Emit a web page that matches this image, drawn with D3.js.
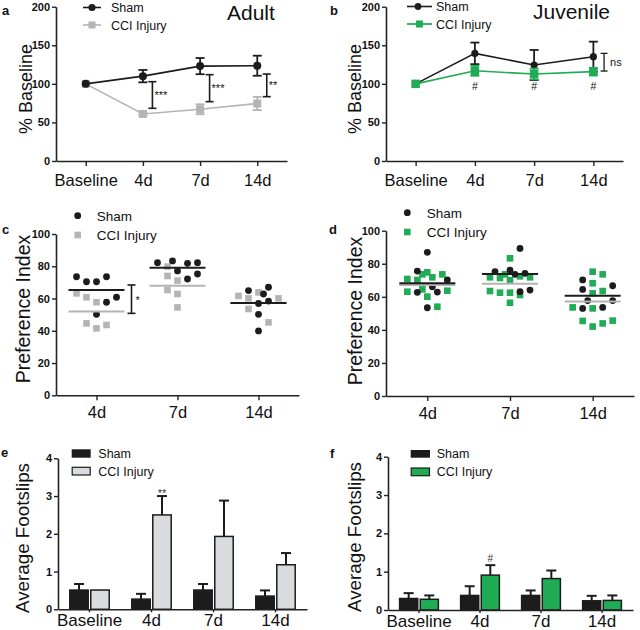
<!DOCTYPE html>
<html><head><meta charset="utf-8">
<script src="https://cdn.jsdelivr.net/npm/d3@7"></script>
<style>body{margin:0;background:#fff}svg{display:block}</style>
</head><body>
<svg id="fig" width="640" height="630"></svg>
<script>
// ---------- DATA ----------
const categories = ["Baseline","4d","7d","14d"];
const scatterCats = ["4d","7d","14d"];
const seriesNames = ["Sham","CCI Injury"];
const yTicksBaseline = [0,50,100,150,200];
const yTicksPref = [0,20,40,60,80,100];
const yTicksFoot = [0,1,2,3,4];

// panel a (Adult, % baseline)
const aSham = [100,110,123,123.5];
const aShamErr = [0,8,10.5,13];
const aCci = [100,61,67,74.5];
const aCciErr = [0,2,6.5,8.5];
const aSigCats = ["4d","7d","14d"];
const aSigLow = [68.3,76.9,83.4];
const aSigHigh = [102.8,111.9,112.7];
const aSigLabels = ["***","***","**"];

// panel b (Juvenile, % baseline)
const bSham = [100,139.5,124.4,135.2];
const bShamErr = [0,14,19.5,19.5];
const bCci = [100,117,112.7,115.8];
const bCciErr = [0,6.5,7,5];
const bHashCats = ["4d","7d","14d"];
const bHashLevel = 97;
const bNsRange = [116.6,139.5];

// panel c (Adult, preference index) values per category, and dot-plot column index
const cShamVals = [[73.5,70.4,70.4,73.5,60.8,57.7,50.2],[82.2,83.3,81.8,82.2,77.1,72.1,75.2],[64.9,67.0,62.8,56.9,58.4,50.2,39.9]];
const cShamCols = [[-4,-2,0,2,4,2,0],[-4,-1,2,4,0,2,4],[-2,2,1,0,2,0,0]];
const cCciVals = [[63.2,60.8,57.7,44.6,41.5,43.6],[79.8,74.0,71.1,65.3,62.8,54.5],[61.6,60.1,63.8,53.5,45.2,60.1]];
const cCciCols = [[-4,-2,0,-2,0,2],[-2,-2,0,-2,0,0],[-4,-2,0,-2,2,4]];
const cShamMean = [65.3,79.1,57.3];
const cCciMean = [51.9,67.9,57.2];
const cSig = {cat:"4d", low:50.8, high:68.4, label:"*"};

// panel d (Juvenile, preference index)
const dShamVals = [[86.9,75.6,70.2,66.1,62.7,62.9,53.4],[89.3,75.2,76.2,73.6,74.2,63.1,64.1],[70.2,64.5,66.7,57.7,57.7,53.0,53.6]];
const dShamCols = [[0,-2,4,1,-2,2,0],[2,-3,0,1,3,2,4],[-2,-2,4,-1,4,-2,2]];
const dCciVals = [[70.8,63.1,70.2,73.6,74.8,71.8,73.6,63.7,64.5,60.1,54.0],[83.3,71.8,71.4,73.6,72.4,71.8,63.5,62.5,62.5,61.1,56.4,70.0],[75.2,73.6,68.2,63.5,62.1,53.6,53.0,45.4,42.0,43.9,45.6]];
const dCciCols = [[-4,-4,-2,-1,0,1,3,4,-1,0,2],[0,-4,-2,-1,2,4,-4,-2,0,2,0,0],[0,2,0,2,0,-4,0,-2,0,2,4]];
const dShamMean = [68.2,73.8,60.7];
const dCciMean = [67.2,67.9,57.1];

// panel e (Adult, footslips)
const eSham = [0.51,0.27,0.51,0.35];
const eShamErr = [0.16,0.14,0.16,0.15];
const eCci = [0.51,2.5,1.93,1.18];
const eCciErr = [0,0.5,0.95,0.31];
// panel f (Juvenile, footslips)
const fSham = [0.30,0.38,0.38,0.24];
const fShamErr = [0.14,0.24,0.13,0.13];
const fCci = [0.28,0.91,0.82,0.25];
const fCciErr = [0.10,0.26,0.21,0.13];

// ---------- STYLE ----------
const FONT = "'Liberation Sans', Arial, Helvetica, sans-serif";
const BLACK = "#1c1c1c";
const GREY = "#b4b4b4";
const GREEN = "#1fac55";
const BARGREY = "#d8dcdf";

const svg = d3.select("#fig");
svg.append("rect").attr("width",640).attr("height",630).attr("fill","#fff");

function styleAxis(g, fs, bold){
  g.select(".domain").attr("stroke","#222").attr("stroke-width",1.6);
  g.selectAll(".tick line").attr("stroke","#222").attr("stroke-width",1.4);
  g.selectAll(".tick text").attr("fill","#111").style("font-family",FONT)
   .style("font-size",fs+"px").style("font-weight",bold?"bold":"normal");
}
function yAxis(x, y, ticks){
  const g = svg.append("g").attr("transform",`translate(${x},0)`)
    .call(d3.axisLeft(y).tickValues(ticks).tickSize(4).tickSizeOuter(0).tickPadding(2).tickFormat(d3.format("d")));
  styleAxis(g, 11, true);
}
function xAxis(x, yPix, tsize, pad, fs){
  const g = svg.append("g").attr("transform",`translate(0,${yPix})`)
    .call(d3.axisBottom(x).tickSize(tsize).tickSizeOuter(0).tickPadding(pad));
  styleAxis(g, fs, false);
}
function txt(x, y, s, fs, opts={}){
  return svg.append("text").attr("x",x).attr("y",y).text(s)
    .style("font-family",FONT).style("font-size",fs+"px")
    .style("font-weight",opts.bold?"bold":"normal")
    .attr("text-anchor",opts.anchor||"start").attr("fill",opts.fill||"#111");
}
function yTitle(x, y, s, fs){
  svg.append("text").attr("transform",`translate(${x},${y}) rotate(-90)`)
    .attr("text-anchor","middle").text(s)
    .style("font-family",FONT).style("font-size",fs+"px").attr("fill","#111");
}
function vbar(x, y1, y2, cap, color, w){
  svg.append("line").attr("x1",x).attr("x2",x).attr("y1",y1).attr("y2",y2).attr("stroke",color).attr("stroke-width",w);
  [y1,y2].forEach(yy=>svg.append("line").attr("x1",x-cap/2).attr("x2",x+cap/2).attr("y1",yy).attr("y2",yy).attr("stroke",color).attr("stroke-width",w));
}
function square(x, y, s, color){
  svg.append("rect").attr("x",x-s/2).attr("y",y-s/2).attr("width",s).attr("height",s).attr("fill",color);
}
function circle(x, y, r, color){
  svg.append("circle").attr("cx",x).attr("cy",y).attr("r",r).attr("fill",color);
}

// ---------- LINE PANELS (a, b) ----------
function linePanel(p){
  const x = d3.scalePoint().domain(categories).range(p.xr).padding(p.pad);
  const y = d3.scaleLinear().domain([0,200]).range(p.yr);
  yAxis(p.xr[0], y, yTicksBaseline);
  xAxis(x, p.yr[0], 5, 8, 16.5);
  const line = d3.line().x((d,i)=>x(categories[i])).y(d=>y(d));
  p.series.forEach(s=>{
    svg.append("path").datum(s.vals).attr("d",line).attr("fill","none").attr("stroke",s.color).attr("stroke-width",1.6);
    s.vals.forEach((v,i)=>{
      if(s.errs[i]>0) vbar(x(categories[i]), y(v+s.errs[i]), y(v-s.errs[i]), 9, s.errColor||s.color, 1.8);
    });
    s.vals.forEach((v,i)=>{
      if(s.marker==="circle") circle(x(categories[i]), y(v), s.size, s.color);
      else square(x(categories[i]), y(v), s.size, s.color);
    });
  });
  return {x,y};
}

// panel a
const pa = linePanel({xr:[56,287], pad:0.52, yr:[161,6.7], series:[
  {vals:aCci, errs:aCciErr, color:GREY, marker:"square", size:8},
  {vals:aSham, errs:aShamErr, color:BLACK, marker:"circle", size:4}
]});
aSigCats.forEach((c,i)=>{
  const bx = pa.x(c)+9.5;
  const y1 = pa.y(aSigHigh[i]), y2 = pa.y(aSigLow[i]);
  vbar(bx, y1, y2, 8, BLACK, 1.6);
  txt(bx+2, (y1+y2)/2+4, aSigLabels[i], 11);
});
// legend a
svg.append("line").attr("x1",83).attr("x2",101).attr("y1",7.5).attr("y2",7.5).attr("stroke",BLACK).attr("stroke-width",1.6);
circle(92,7.5,3.6,BLACK);
txt(111,12,seriesNames[0],12.5);
svg.append("line").attr("x1",83).attr("x2",101).attr("y1",25).attr("y2",25).attr("stroke",GREY).attr("stroke-width",1.6);
square(92,25,7,GREY);
txt(111,29.5,seriesNames[1],12.5);
txt(227,19.5,"Adult",21);
txt(2,15,"a",13,{bold:true});
yTitle(32,89,"% Baseline",18);

// panel b
const pb = linePanel({xr:[386,623], pad:0.5, yr:[161,6.7], series:[
  {vals:bSham, errs:bShamErr, color:BLACK, marker:"circle", size:3.6},
  {vals:bCci, errs:bCciErr, color:GREEN, marker:"square", size:8.5}
]});
bHashCats.forEach(c=>txt(pb.x(c), pb.y(bHashLevel)+4, "#", 10.5, {anchor:"middle"}));
{
  const bx = pb.x("14d")+10.7;
  const y1 = pb.y(bNsRange[1]), y2 = pb.y(bNsRange[0]);
  vbar(bx, y1, y2, 7, BLACK, 1.3);
  txt(bx+6, (y1+y2)/2+3.5, "ns", 11);
}
svg.append("line").attr("x1",407).attr("x2",432).attr("y1",6.5).attr("y2",6.5).attr("stroke",BLACK).attr("stroke-width",1.6);
circle(418,6.5,3.4,BLACK);
txt(436,11,seriesNames[0],12.5);
svg.append("line").attr("x1",407).attr("x2",432).attr("y1",24).attr("y2",24).attr("stroke",GREEN).attr("stroke-width",1.8);
square(419.5,24,7,GREEN);
txt(436,28.5,seriesNames[1],12.5);
txt(533,19,"Juvenile",21);
txt(330,15,"b",13,{bold:true});
yTitle(361,89,"% Baseline",18);

// ---------- SCATTER PANELS (c, d) ----------
function scatterPanel(p){
  const x = d3.scalePoint().domain(scatterCats).range(p.xr).padding(0.5);
  const y = d3.scaleLinear().domain([0,100]).range(p.yr);
  yAxis(p.xr[0], y, yTicksPref);
  xAxis(x, p.yr[0], 5, 6, 16.5);
  scatterCats.forEach((c,i)=>{
    p.cciVals[i].forEach((v,j)=>square(x(c)+p.cciCols[i][j]*5, y(v), 6.6, p.cciColor));
    p.shamVals[i].forEach((v,j)=>circle(x(c)+p.shamCols[i][j]*5, y(v), 3.4, BLACK));
    svg.append("line").attr("x1",x(c)-28).attr("x2",x(c)+28).attr("y1",y(p.cciMean[i])).attr("y2",y(p.cciMean[i])).attr("stroke",GREY).attr("stroke-width",2);
    svg.append("line").attr("x1",x(c)-28).attr("x2",x(c)+28).attr("y1",y(p.shamMean[i])).attr("y2",y(p.shamMean[i])).attr("stroke",BLACK).attr("stroke-width",2);
  });
  return {x,y};
}
const pc = scatterPanel({xr:[56,299], yr:[395.3,234], shamVals:cShamVals, shamCols:cShamCols, cciVals:cCciVals, cciCols:cCciCols, shamMean:cShamMean, cciMean:cCciMean, cciColor:GREY});
{
  const bx = pc.x(cSig.cat)+35;
  const y1 = pc.y(cSig.high), y2 = pc.y(cSig.low);
  vbar(bx, y1, y2, 8, BLACK, 1.6);
  txt(bx+4, (y1+y2)/2+5, cSig.label, 11);
}
circle(77.7,215.7,3.4,BLACK); txt(96.7,220.5,seriesNames[0],13.5);
square(77.7,235,6.6,GREY); txt(96.7,239.8,seriesNames[1],13.5);
txt(2,234,"c",13,{bold:true});
yTitle(30,309,"Preference Index",19.5);

const pd = scatterPanel({xr:[386,634], yr:[396,230.7], shamVals:dShamVals, shamCols:dShamCols, cciVals:dCciVals, cciCols:dCciCols, shamMean:dShamMean, cciMean:dCciMean, cciColor:GREEN});
circle(407.3,212.7,3.4,BLACK); txt(426.7,217.5,seriesNames[0],13.5);
square(407.3,232,6.6,GREEN); txt(426.7,236.8,seriesNames[1],13.5);
txt(329,234,"d",13,{bold:true});
yTitle(362,311,"Preference Index",19.5);

// ---------- BAR PANELS (e, f) ----------
function barPanel(p){
  const x = d3.scaleBand().domain(categories).range(p.xr).paddingInner(0.34).paddingOuter(0.178);
  const inner = d3.scaleBand().domain(seriesNames).range([0,x.bandwidth()]).paddingInner(0.05);
  const y = d3.scaleLinear().domain([0,4]).range(p.yr);
  const groups = [{vals:p.sham, errs:p.shamErr, fill:BLACK, name:seriesNames[0]},
                  {vals:p.cci, errs:p.cciErr, fill:p.cciFill, name:seriesNames[1]}];
  groups.forEach(s=>{
    s.vals.forEach((v,i)=>{
      const bx = x(categories[i])+inner(s.name), bw = inner.bandwidth();
      const cx = bx+bw/2;
      if(s.errs[i]>0){
        svg.append("line").attr("x1",cx).attr("x2",cx).attr("y1",y(v)).attr("y2",y(v+s.errs[i])).attr("stroke",BLACK).attr("stroke-width",2);
        svg.append("line").attr("x1",cx-5).attr("x2",cx+5).attr("y1",y(v+s.errs[i])).attr("y2",y(v+s.errs[i])).attr("stroke",BLACK).attr("stroke-width",2);
      }
      svg.append("rect").attr("x",bx+0.75).attr("y",y(v)).attr("width",bw-1.5).attr("height",y(0)-y(v))
        .attr("fill",s.fill).attr("stroke",BLACK).attr("stroke-width",1.5);
    });
  });
  yAxis(p.xr[0], y, yTicksFoot);
  xAxis(x, p.yr[0], 3, 1.5, 17);
  return {x,inner,y};
}
const pe = barPanel({xr:[58,307], yr:[609.3,458.3], sham:eSham, shamErr:eShamErr, cci:eCci, cciErr:eCciErr, cciFill:BARGREY});
{
  const cx = pe.x("4d")+pe.inner(seriesNames[1])+pe.inner.bandwidth()/2;
  txt(cx, pe.y(eCci[1]+eCciErr[1])+1, "**", 11, {anchor:"middle", fill:"#333"});
}
svg.append("rect").attr("x",71.7).attr("y",449.3).attr("width",19).attr("height",8.4).attr("fill",BLACK);
txt(98.3,458,seriesNames[0],12.5);
svg.append("rect").attr("x",72.2).attr("y",467.3).attr("width",18).attr("height",7.7).attr("fill",BARGREY).attr("stroke",BLACK).attr("stroke-width",1.2);
txt(98.3,475.5,seriesNames[1],12.5);
txt(1,457,"e",13,{bold:true});
yTitle(29,538,"Average Footslips",18.8);

const pf = barPanel({xr:[388,633], yr:[610,456.7], sham:fSham, shamErr:fShamErr, cci:fCci, cciErr:fCciErr, cciFill:GREEN});
{
  const cx = pf.x("4d")+pf.inner(seriesNames[1])+pf.inner.bandwidth()/2;
  txt(cx, pf.y(fCci[1]+fCciErr[1])-3.5, "#", 10, {anchor:"middle", fill:"#333"});
}
svg.append("rect").attr("x",410.7).attr("y",450).attr("width",19.3).attr("height",7.7).attr("fill",BLACK);
txt(436.7,458.3,seriesNames[0],12.5);
svg.append("rect").attr("x",411.2).attr("y",468).attr("width",18.3).attr("height",7.7).attr("fill",GREEN).attr("stroke",BLACK).attr("stroke-width",1.2);
txt(436.7,476.3,seriesNames[1],12.5);
txt(330,458,"f",13,{bold:true});
yTitle(361,537,"Average Footslips",18.8);
</script>
</body></html>
